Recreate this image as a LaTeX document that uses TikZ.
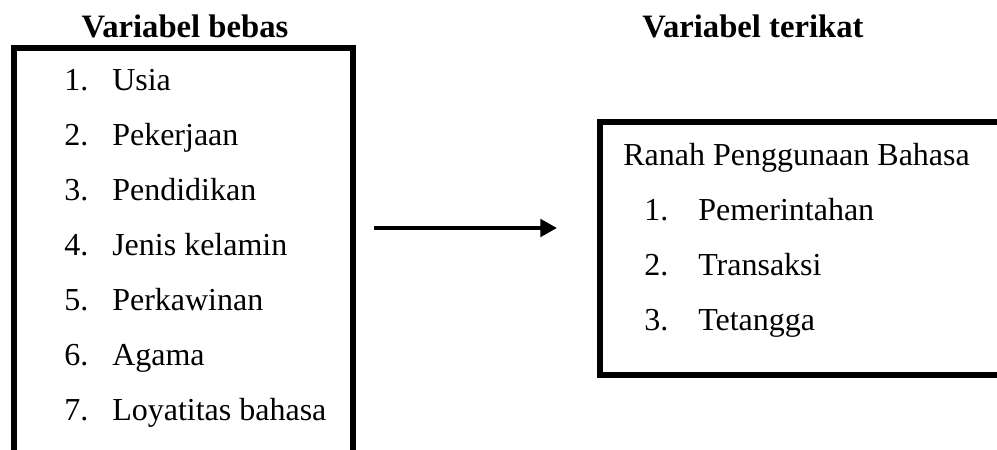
\documentclass[tikz,border=0pt]{standalone}
\usepackage{fontspec}
\setmainfont{Liberation Serif}
\usetikzlibrary{arrows.meta}
\tikzset{
  head/.style={anchor=base,inner sep=0pt,font=\fontsize{24.5}{28}\selectfont\bfseries},
  num/.style={anchor=base west,inner sep=0pt},
  item/.style={anchor=base west,inner sep=0pt},
  frame/.style={line width=4.5pt}
}
\begin{document}
\begin{tikzpicture}[x=0.75pt,y=-0.75pt]
                    \useasboundingbox (0,0) rectangle (997,450);
                    \clip (0,0) rectangle (997,450);
                    {\fontsize{24}{28}\selectfont

                    % Drawing the headings
                    \node [head] (hbebas) at (185,37) {Variabel bebas};%
                    \node [head] (hterikat) at (753,37) {Variabel terikat};%

                    % Drawing box of the free variables
                    \draw [frame] (13.5,48) rectangle (353,480);%
                    \foreach \n/\t [count=\i] in {1/Usia,2/Pekerjaan,3/Pendidikan,4/Jenis kelamin,5/Perkawinan,6/Agama,7/Loyatitas bahasa}
                    {
                      \node [num] (bn\i) at (64,35+55*\i) {\n.};%
                      \node [item] (bt\i) at (112,35+55*\i) {\t};%
                    }

                    % Drawing box of the bound variable
                    \draw [frame] (600,122) rectangle (1010,375);%
                    \node [item] (ranah) at (623,165) {Ranah Penggunaan Bahasa};%
                    \foreach \n/\t [count=\i] in {1/Pemerintahan,2/Transaksi,3/Tetangga}
                    {
                      \node [num] (rn\i) at (644,165+55*\i) {\n.};%
                      \node [item] (rt\i) at (698,165+55*\i) {\t};%
                    }

                    % Drawing the arrow
                    \coordinate (from) at (374,228);%
                    \coordinate (to) at (557,228);%
                    \draw [line width=3pt,-{Triangle[length=12.5pt,width=13pt]}] (from) -- (to);%
                    }
\end{tikzpicture}
\end{document}
